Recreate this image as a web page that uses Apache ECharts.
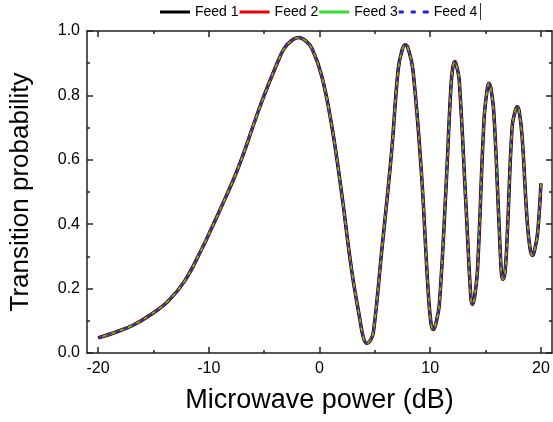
<!DOCTYPE html>
<html><head><meta charset="utf-8">
<script src="https://cdn.jsdelivr.net/npm/echarts@6/dist/echarts.min.js"></script>
<style>html,body{margin:0;padding:0;background:#fff}#c{width:553px;height:422px}</style>
</head><body><div id="c"></div>
<script>
const powerDb = [-20,-18.3,-16.8,-15.3,-13.7,-12.17,-10.68,-9.78,-8.89,-7.69,-6.9,-6.0,-5.0,-4.0,-3.2,-2.46,-1.86,-1.27,-0.67,0.22,1.12,2.0,2.9,3.66,3.96,4.26,4.56,4.86,5.6,6.5,7.1,7.46,7.75,8.05,8.44,9.19,9.79,10.08,10.29,10.5,10.83,11.43,11.87,12.05,12.23,12.4,12.62,13.22,13.67,13.82,14.0,14.27,14.86,15.16,15.3,15.48,15.75,16.2,16.43,16.56,16.75,16.95,17.4,17.68,17.85,18.03,18.3,18.75,19.04,19.25,19.43,19.7,20.0];
const probability = [0.047,0.066,0.087,0.118,0.16,0.224,0.32,0.385,0.452,0.545,0.615,0.705,0.8,0.885,0.945,0.972,0.98,0.97,0.945,0.858,0.703,0.496,0.258,0.102,0.048,0.03,0.037,0.063,0.31,0.62,0.879,0.941,0.957,0.941,0.879,0.568,0.206,0.09,0.073,0.09,0.154,0.516,0.827,0.889,0.905,0.889,0.848,0.465,0.172,0.151,0.172,0.258,0.724,0.822,0.838,0.822,0.744,0.413,0.249,0.229,0.249,0.361,0.703,0.752,0.765,0.752,0.672,0.413,0.32,0.303,0.32,0.372,0.527];
const seriesNames = ['Feed 1','Feed 2','Feed 3','Feed 4'];
const xMajor = [-20,-10,0,10,20];
const xMinor = [-15,-5,5,15];

const pts = powerDb.map((x,i)=>[x,probability[i]]);
const styles = [
  {color:'#000000', width:3.5, type:'solid'},
  {color:'#ee0000', width:2.5, type:'solid'},
  {color:'#33dd33', width:1.5, type:'solid'},
  {color:'#2222cc', width:1.5, type:[5,4]}
];
const solidIcon = 'path://M0,0H30V3H0Z';
const dashIcon = 'path://M0,0H5V3H0Z M12,0H17V3H12Z M24,0H30V3H24Z';
const font = 'Arial, "Liberation Sans", sans-serif';
const axisCol = '#222';
const xBase = {type:'value', min:-21, max:21, gridIndex:0, splitLine:{show:false}};
const lineOn = {show:true, onZero:false, lineStyle:{color:axisCol, width:1.5}};
const chart = echarts.init(document.getElementById('c'));
chart.setOption({
  animation:false,
  textStyle:{fontFamily:font},
  legend:{top:5, left:160, padding:0, itemWidth:30, itemHeight:3, itemGap:1,
    textStyle:{fontSize:14, color:'#000', fontFamily:font},
    data:seriesNames.map((n,i)=>({name:n, icon: i===3 ? dashIcon : solidIcon}))},
  grid:{left:83, right:1, top:31, bottom:69},
  xAxis:[
    Object.assign({}, xBase, {position:'bottom', name:'Microwave power (dB)', nameLocation:'middle', nameGap:34,
      nameTextStyle:{fontSize:27, color:'#000', fontFamily:font},
      axisLine:lineOn,
      axisTick:{inside:true, length:6, customValues:xMajor, lineStyle:{color:axisCol, width:1.5}},
      axisLabel:{customValues:xMajor, fontSize:16, color:'#000', margin:8, fontFamily:font}}),
    Object.assign({}, xBase, {position:'bottom', axisLine:{show:false, onZero:false}, axisLabel:{show:false},
      axisTick:{inside:true, length:3, customValues:xMinor, lineStyle:{color:axisCol, width:1.5}}}),
    Object.assign({}, xBase, {position:'top', axisLine:lineOn, axisLabel:{show:false},
      axisTick:{inside:true, length:6, customValues:xMajor, lineStyle:{color:axisCol, width:1.5}}}),
    Object.assign({}, xBase, {position:'top', axisLine:{show:false, onZero:false}, axisLabel:{show:false},
      axisTick:{inside:true, length:3, customValues:xMinor, lineStyle:{color:axisCol, width:1.5}}})
  ],
  yAxis:[
    {type:'value', min:0, max:1, interval:0.2, position:'left', splitLine:{show:false},
      name:'Transition probability', nameLocation:'middle', nameGap:53,
      nameTextStyle:{fontSize:26, color:'#000', fontFamily:font},
      axisLine:lineOn,
      axisTick:{show:true, inside:true, length:6, lineStyle:{color:axisCol, width:1.5}},
      minorTick:{show:true, splitNumber:2, length:3, lineStyle:{color:axisCol, width:1.5}},
      axisLabel:{fontSize:16, color:'#000', margin:7, fontFamily:font, formatter:v=>v.toFixed(1)}},
    {type:'value', min:0, max:1, interval:0.2, position:'right', splitLine:{show:false},
      axisLine:lineOn,
      axisTick:{show:true, inside:true, length:6, lineStyle:{color:axisCol, width:1.5}},
      minorTick:{show:true, splitNumber:2, length:3, lineStyle:{color:axisCol, width:1.5}},
      axisLabel:{show:false}}
  ],
  graphic:[{type:'line', shape:{x1:480.5, y1:3, x2:480.5, y2:20}, style:{stroke:'#333', lineWidth:1}}],
  series: seriesNames.map((n,i)=>({
    name:n, type:'line', data:pts, smooth:0.4, showSymbol:false, symbol:'none',
    xAxisIndex:0, yAxisIndex:0,
    itemStyle:{color:styles[i].color},
    lineStyle:{color:styles[i].color, width:styles[i].width, type:styles[i].type}
  }))
});
</script></body></html>
